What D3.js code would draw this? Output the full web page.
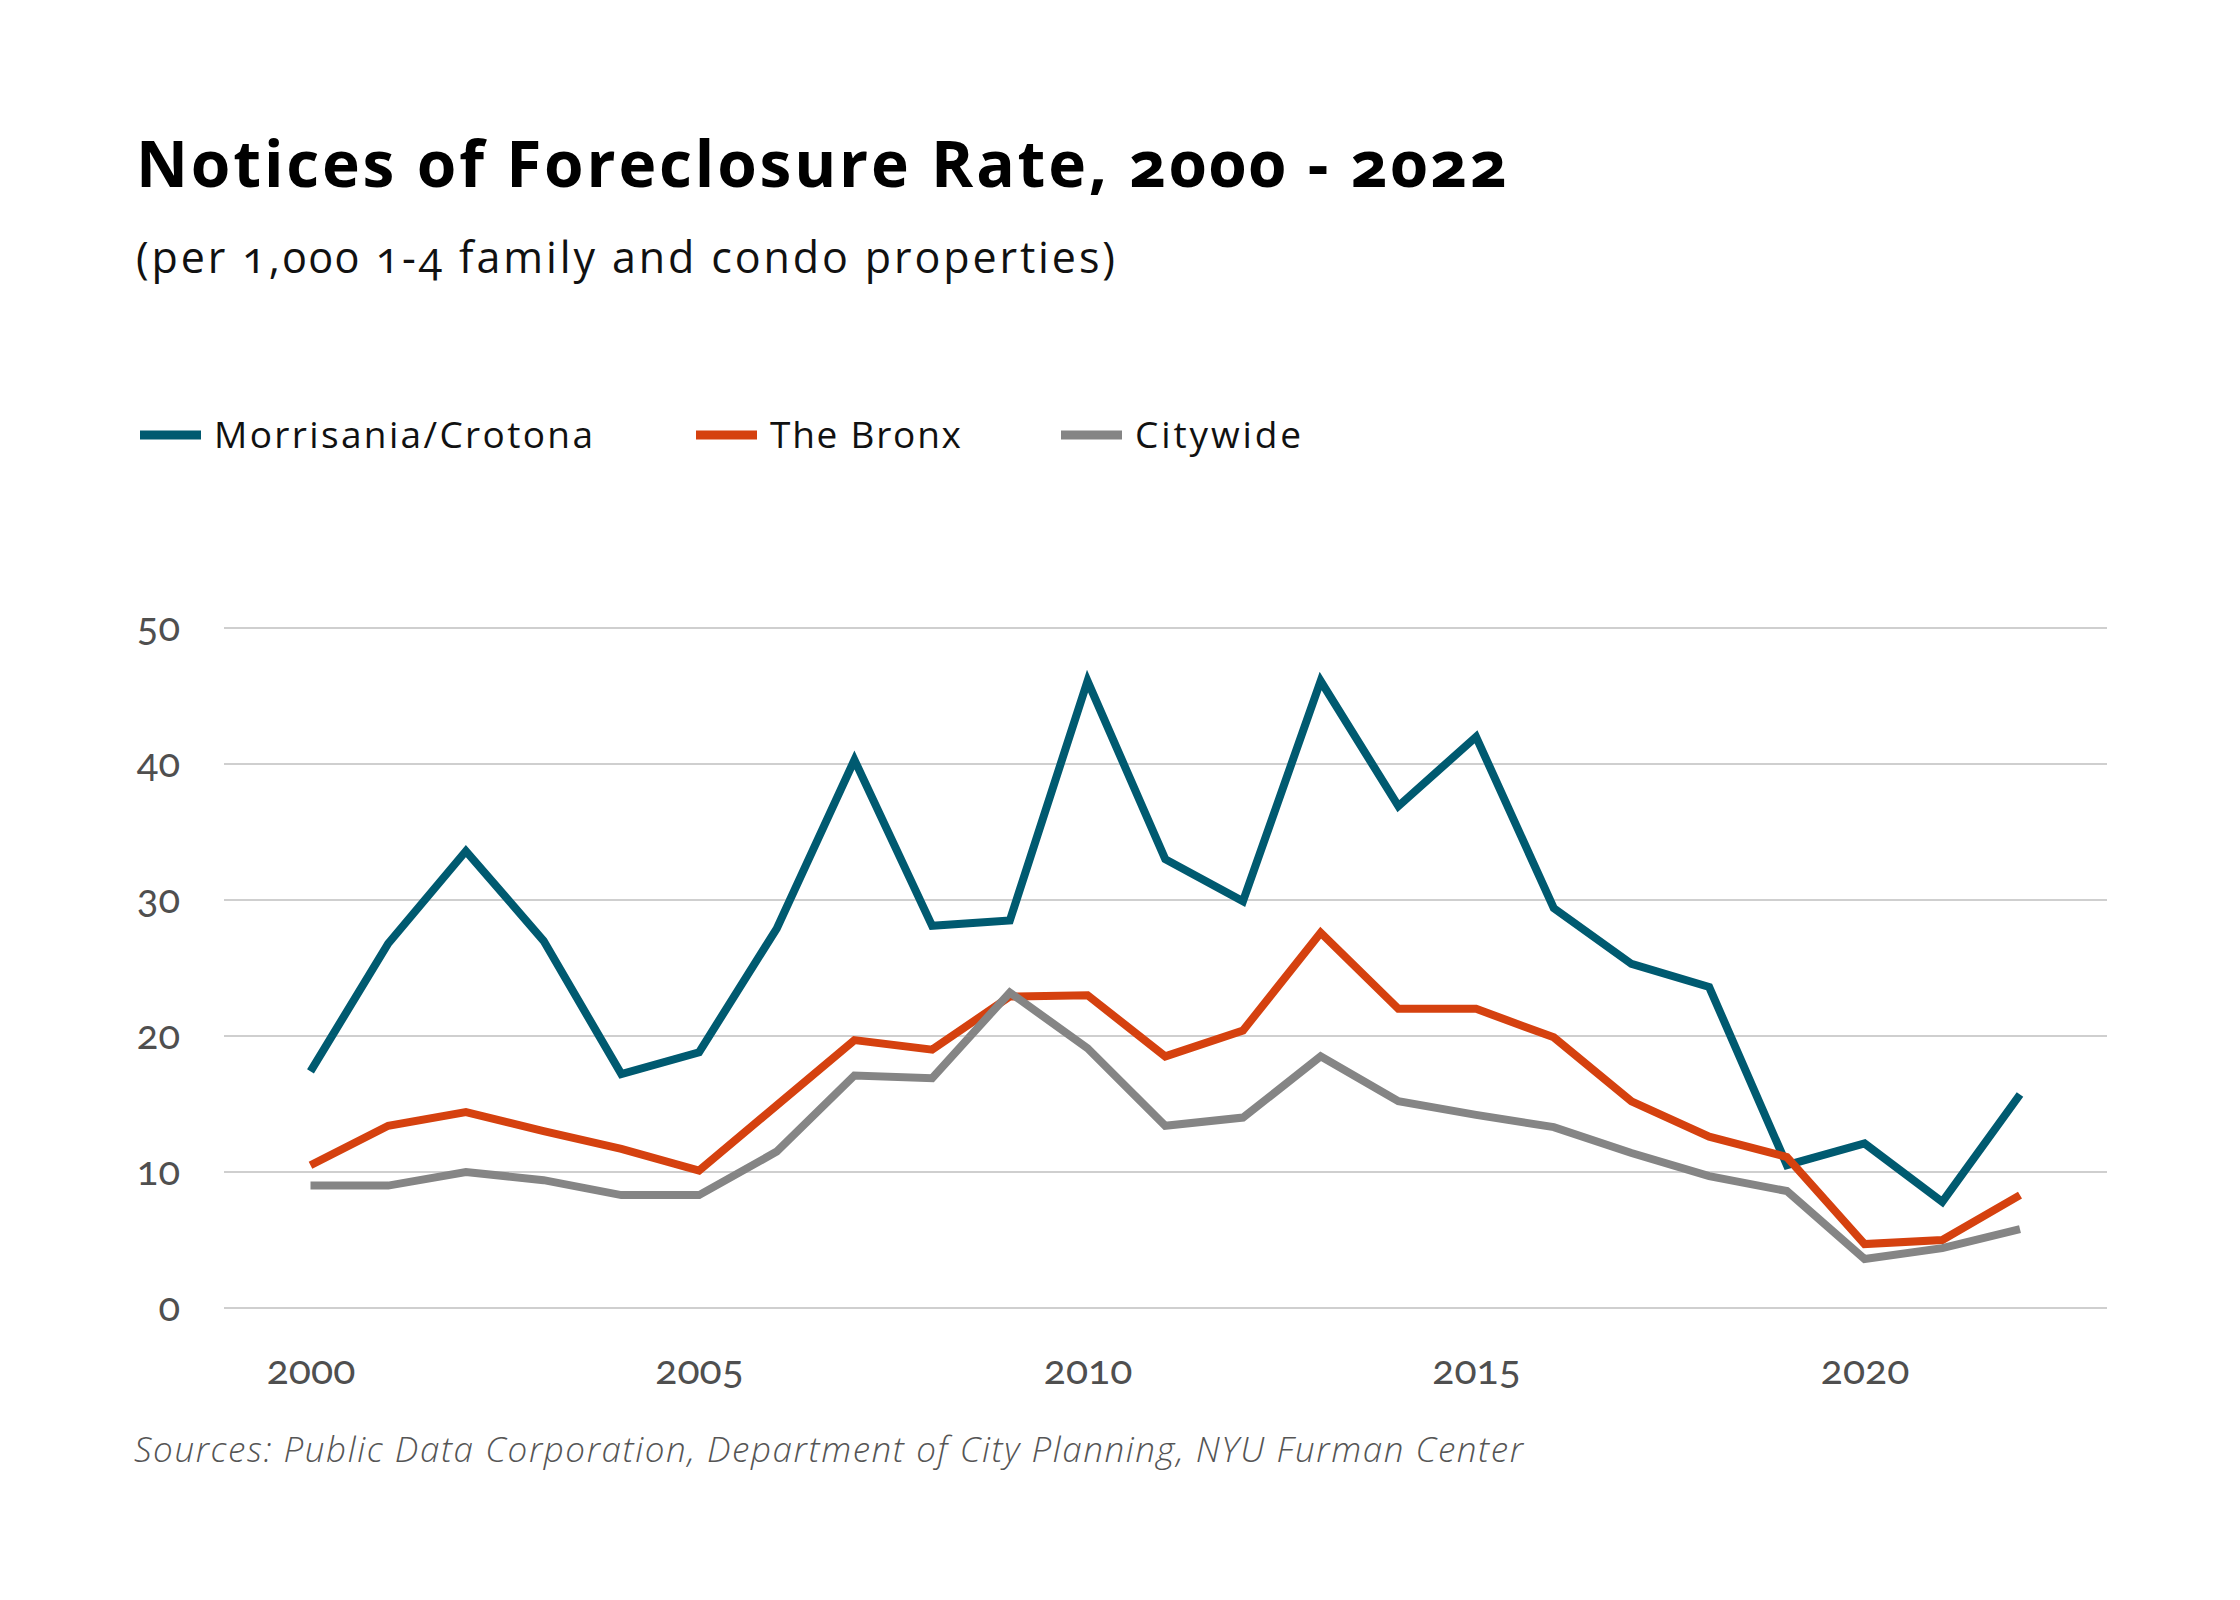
<!DOCTYPE html>
<html>
<head>
<meta charset="utf-8">
<script src="https://cdn.jsdelivr.net/npm/d3@7"></script>
<style>
  html, body { margin: 0; padding: 0; background: #fff; }
  svg { display: block; }
  text { font-family: "Open Sans", Lato, sans-serif; }
</style>
</head>
<body>
<svg id="chart" width="2240" height="1600"></svg>
<script>
const years = [2000,2001,2002,2003,2004,2005,2006,2007,2008,2009,2010,2011,2012,2013,2014,2015,2016,2017,2018,2019,2020,2021,2022];
const morrisania = [17.4,26.8,33.6,27.0,17.2,18.8,27.9,40.3,28.1,28.5,46.1,33.0,29.9,46.1,36.9,42.0,29.4,25.3,23.6,10.5,12.1,7.8,15.7];
const bronx = [10.5,13.4,14.4,13.0,11.7,10.1,14.9,19.7,19.0,22.9,23.0,18.5,20.4,27.6,22.0,22.0,19.9,15.2,12.6,11.1,4.7,5.0,8.3];
const citywide = [9.0,9.0,10.0,9.4,8.3,8.3,11.5,17.1,16.9,23.2,19.1,13.4,14.0,18.5,15.2,14.2,13.3,11.4,9.7,8.6,3.6,4.4,5.8];
const seriesNames = ["Morrisania/Crotona","The Bronx","Citywide"];
const seriesColors = ["#005a70","#d5410f","#858585"];
const yTicks = [0,10,20,30,40,50];
const xTicks = [2000,2005,2010,2015,2020];
const titleText = "Notices of Foreclosure Rate, 2000 - 2022";
const subtitleText = "(per 1,000 1-4 family and condo properties)";
const sourceText = "Sources: Public Data Corporation, Department of City Planning, NYU Furman Center";

const svg = d3.select("#chart");
svg.append("rect").attr("width",2240).attr("height",1600).attr("fill","#fff");

const x = d3.scaleLinear().domain([2000,2022]).range([310.5,2020]);
const y = d3.scaleLinear().domain([0,50]).range([1308,628]);

// stretch text horizontally with letter-spacing to reach a target width
function fitWidth(sel, target) {
  const node = sel.node();
  const n = sel.text().length;
  const w = node.getComputedTextLength();
  if (n > 1) sel.attr("letter-spacing", ((target - w) / (n - 1)).toFixed(2));
}

// Title & subtitle
const title = svg.append("text").attr("x",136).attr("y",187)
  .attr("font-size",64).attr("font-weight",700).attr("fill","#000")
  .style("font-variant-numeric","oldstyle-nums")
  .text(titleText);
fitWidth(title, 1371);
const sub = svg.append("text").attr("x",136).attr("y",273)
  .attr("font-size",43).attr("fill","#111")
  .style("font-variant-numeric","oldstyle-nums")
  .text(subtitleText);
fitWidth(sub, 979);

// Legend
const legendX = [140,696,1061];
const legendW = [379,191,166];
const series = [morrisania,bronx,citywide];
seriesNames.forEach((n,i)=>{
  const g = svg.append("g");
  g.append("rect").attr("x",legendX[i]).attr("y",430.5).attr("width",61).attr("height",9).attr("fill",seriesColors[i]);
  const t = g.append("text").attr("x",legendX[i]+74).attr("y",448).attr("font-size",37).attr("fill","#111").text(n);
  fitWidth(t, legendW[i]);
});

// Grid
const grid = svg.append("g");
grid.selectAll("line").data(yTicks).join("line")
  .attr("x1",224).attr("x2",2107)
  .attr("y1",d=>y(d)).attr("y2",d=>y(d))
  .attr("stroke","#cfcfcf").attr("stroke-width",2);

// Y axis labels
const yAxis = d3.axisLeft(y).tickValues(yTicks).tickSize(0).tickPadding(0);
const yg = svg.append("g").attr("transform","translate(180,0)").call(yAxis);
yg.select(".domain").remove();
yg.selectAll("text").attr("font-size",40).attr("fill","#4f4f4f")
  .style("font-family","Lato, 'Open Sans', sans-serif")
  .style("font-variant-numeric","oldstyle-nums");

// X axis labels
const xAxis = d3.axisBottom(x).tickValues(xTicks).tickFormat(d3.format("d")).tickSize(0).tickPadding(0);
const xg = svg.append("g").attr("transform","translate(0,1355)").call(xAxis);
xg.select(".domain").remove();
xg.selectAll("text").attr("font-size",41).attr("fill","#4f4f4f")
  .style("font-family","Lato, 'Open Sans', sans-serif")
  .style("font-variant-numeric","oldstyle-nums");

// Lines
const line = d3.line().x((d,i)=>x(years[i])).y(d=>y(d));
series.forEach((s,i)=>{
  svg.append("path").datum(s).attr("d",line)
    .attr("fill","none").attr("stroke",seriesColors[i])
    .attr("stroke-width",8).attr("stroke-linejoin","miter").attr("stroke-linecap","butt");
});

// Source
const src = svg.append("text").attr("x",134).attr("y",1462)
  .attr("font-size",35).attr("font-style","italic").attr("font-weight",300).attr("fill","#555")
  .text(sourceText);
fitWidth(src, 1389);
</script>
</body>
</html>
